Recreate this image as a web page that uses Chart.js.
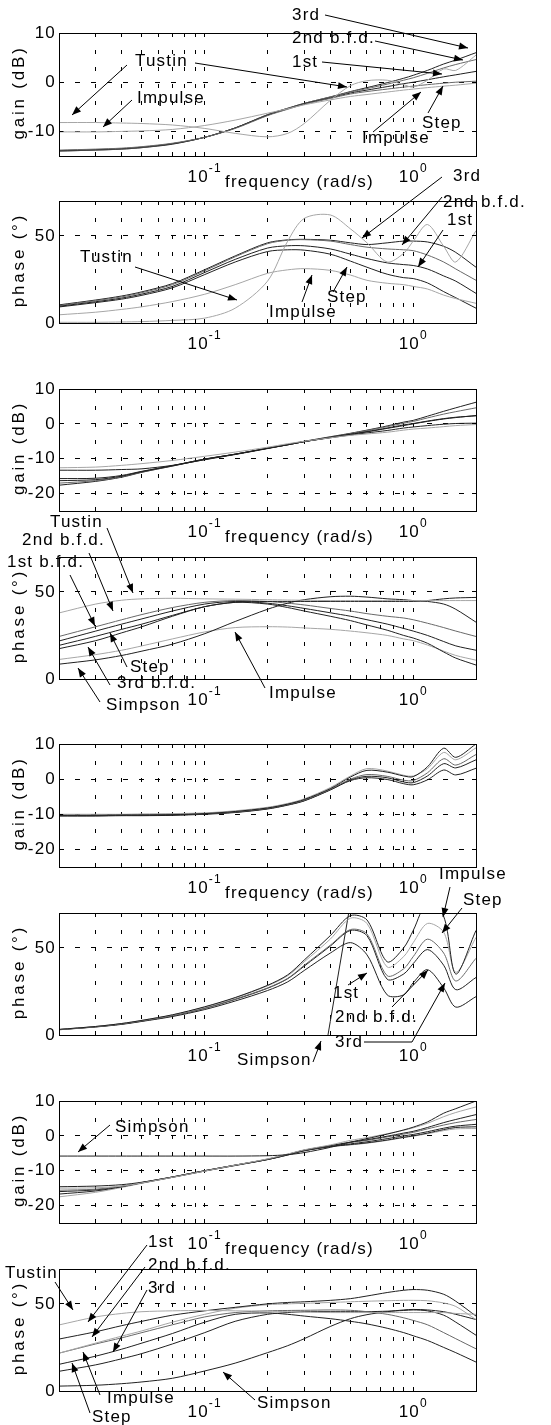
<!DOCTYPE html>
<html lang="en">
<head>
<meta charset="UTF-8">
<title>Gain and phase of the discretisations</title>
<script src="https://cdn.jsdelivr.net/npm/chart.js"></script>
<style>
    body {
        margin: 0;
        background: #fff;
    }
    #page {
        position: relative;
        width: 551px;
        height: 1425px;
        overflow: hidden;
    }
    #page canvas {
        position: absolute;
        left: 0;
    }
    #notes {
        top: 0;
        z-index: 5;
        pointer-events: none;
    }
</style>
</head>
<body>
<div id="page">
    <canvas id="notes" width="551" height="1425"></canvas>
</div>
<script>
// frequencies (rad/s) where the curves are read
const freq = [0.02, 0.03, 0.04, 0.05, 0.07, 0.1, 0.14, 0.2, 0.25, 0.3, 0.4, 0.5, 0.6, 0.75, 0.9, 1.0, 1.17, 1.4, 1.6, 2.0];

// axis ticks
const xGridTicks = [0.03, 0.04, 0.05, 0.06, 0.07, 0.08, 0.09, 0.1, 0.2, 0.3, 0.4, 0.5, 0.6, 0.7, 0.8, 0.9, 1];
const xLabelTicks = [0.1, 1];
const xLabelExps = ['-1', '0'];
const gainTicksTop = [-10, 0, 10];
const gainTicks = [-20, -10, 0, 10];
const phaseTicks = [0, 50];

// panel 1 - gain (dB)
const g1Tustin = [-8.2, -8.2, -8.3, -8.4, -8.7, -9.4, -10.4, -11.1, -10.4, -8.4, -3.7, -0.7, 0.3, 0.4, -0.5, -1.0, 0.4, 2.7, 2.4, 5.5];
const g1Impulse = [-10.1, -10.1, -10.0, -9.9, -9.6, -8.8, -7.7, -6.3, -5.4, -4.6, -3.6, -2.9, -2.5, -2.0, -1.6, -1.4, -1.1, -0.8, -0.6, -0.2];
const g1Step = [-13.8, -13.6, -13.4, -13.1, -12.4, -11.2, -9.4, -6.8, -5.5, -4.5, -3.3, -2.4, -1.9, -1.4, -1.0, -0.8, -0.5, -0.2, 0.0, 0.2];
const g1First = [-13.9, -13.7, -13.5, -13.2, -12.5, -11.2, -9.3, -6.7, -5.4, -4.4, -3.2, -2.2, -1.6, -0.9, -0.3, 0.0, 0.5, 1.1, 1.5, 2.2];
const g1Second = [-14.0, -13.8, -13.6, -13.3, -12.5, -11.2, -9.3, -6.6, -5.3, -4.3, -3.0, -2.0, -1.3, -0.4, 0.4, 0.9, 1.8, 2.9, 3.6, 4.6];
const g1Third = [-14.0, -13.8, -13.6, -13.3, -12.6, -11.2, -9.3, -6.6, -5.3, -4.3, -3.0, -1.9, -1.1, -0.1, 0.8, 1.4, 2.4, 3.7, 4.5, 6.0];

// panel 2 - phase (deg)
const p1Tustin = [0.4, 0.4, 0.6, 0.8, 1.5, 2.8, 8.5, 24, 47, 60, 62, 54, 46, 35, 40, 47, 56.5, 44, 35, 53];
const p1Impulse = [4.7, 6.2, 7.8, 9.3, 12.3, 16.5, 22, 28.5, 30.5, 31.2, 30.2, 27.5, 24.5, 22.8, 22, 21, 19.5, 16, 14, 11.3];
const p1Third = [10.4, 13.2, 15.5, 17.9, 22.6, 30.6, 38.5, 46, 47.7, 48, 47.5, 46, 45, 46, 47, 47, 46.5, 44, 40.5, 32];
const p1Second = [10, 12.8, 15, 17.4, 22, 30, 38, 45.5, 47.5, 47.8, 47, 45, 43.5, 42.5, 42, 41.5, 39, 35, 31, 24.5];
const p1First = [9.6, 12.2, 14.3, 16.6, 21, 29, 36.5, 43, 44.3, 44.3, 42.5, 39.5, 37, 34.5, 33.5, 33, 31, 27, 24, 17];
const p1Step = [9.2, 11.7, 13.7, 15.9, 20.2, 27.8, 35, 41, 42, 41.8, 39.5, 35.5, 32, 28, 26, 25.5, 23, 18, 14.5, 8.5];

// panel 3 - gain (dB)
const g2Tustin = [-12.6, -12.4, -11.9, -11.4, -10.5, -9.3, -8.1, -6.7, -5.7, -5.0, -4.0, -3.3, -2.9, -2.4, -1.8, -1.5, -1.2, -0.8, -0.5, -0.2];
const g2Simpson = [-13.3, -13.3, -13.1, -12.9, -11.9, -10.3, -8.8, -7.1, -6.0, -5.1, -4.0, -3.2, -2.6, -1.9, -1.2, -0.9, -0.5, -0.1, 0.1, 0.2];
const g2Step = [-15.7, -15.6, -14.8, -13.6, -12.0, -10.1, -8.7, -7.0, -6.0, -5.1, -3.9, -3.0, -2.3, -1.3, -0.5, 0.0, 0.7, 1.4, 1.8, 2.4];
const g2First = [-16.3, -16.0, -15.0, -13.7, -12.0, -10.1, -8.7, -7.0, -6.0, -5.1, -3.9, -3.0, -2.2, -1.2, -0.3, 0.1, 0.8, 1.5, 1.9, 2.3];
const g2Second = [-17.0, -16.3, -15.2, -13.8, -12.1, -10.2, -8.7, -7.0, -6.0, -5.1, -3.8, -2.8, -1.9, -0.8, 0.2, 0.7, 1.7, 2.8, 3.5, 4.6];
const g2Third = [-17.6, -16.5, -15.3, -13.9, -12.1, -10.2, -8.7, -7.0, -5.9, -5.0, -3.7, -2.7, -1.8, -0.6, 0.5, 1.0, 2.2, 3.6, 4.6, 6.2];

// panel 4 - phase (deg)
const p2Tustin = [37.9, 43, 45.2, 46, 46.3, 46, 45.8, 45.5, 45.3, 45.2, 45, 45, 45, 45, 45, 45, 45, 45, 45, 45];
const p2Simpson = [8.5, 11, 13.5, 16, 20, 26, 33, 40, 43.5, 45.5, 47.2, 47.5, 47, 46, 45.5, 45, 44.5, 43, 40, 32.6];
const p2Third = [17.4, 22, 26.5, 30, 36, 41.5, 44, 44.5, 44.5, 44.5, 44.5, 44.5, 44.5, 44.5, 44.5, 44.5, 45, 46, 46.5, 46.8];
const p2Second = [24.4, 30, 34, 37, 41, 44, 45, 44.5, 43.5, 42.5, 40.5, 39, 37.5, 36, 35, 34, 32, 29.5, 27.5, 24.4];
const p2First = [21.8, 27.5, 31.5, 34.5, 39, 43, 44.5, 43.5, 42, 40.5, 38, 36, 34, 31.5, 29, 27.5, 25, 21.5, 19, 16.5];
const p2Step = [19.3, 24.5, 28.5, 31.5, 36.5, 41.5, 44, 43, 41, 39, 36, 33.5, 31, 28, 25, 23.5, 20.5, 15.5, 12, 8];
const p2Impulse = [11.2, 14, 16.5, 19, 23, 27, 29.5, 30, 29.8, 29.3, 28.5, 27.5, 26.5, 25, 23, 22, 19.5, 16, 13.5, 10.8];

// panel 5 - gain (dB)
const g3Impulse = [-10.3, -10.3, -10.2, -10.2, -10.1, -9.8, -9.2, -8.2, -7.1, -5.8, -2.7, 0.6, 2.5, 2.0, 0.9, 0.7, 3.5, 8.8, 6.2, 10.0];
const g3Step = [-10.0, -10.0, -10.0, -9.9, -9.8, -9.6, -9.0, -8.0, -6.9, -5.6, -2.4, 0.9, 3.0, 2.3, 1.1, 0.9, 3.0, 7.6, 5.5, 8.9];
const g3Third = [-10.2, -10.2, -10.1, -10.1, -10.0, -9.8, -9.3, -8.3, -7.2, -6.0, -2.9, 0.0, 1.3, 0.8, -0.3, -0.4, 1.8, 5.8, 4.0, 7.0];
const g3Second = [-10.4, -10.4, -10.3, -10.3, -10.2, -9.9, -9.4, -8.4, -7.3, -6.1, -3.0, -0.2, 0.8, 0.4, -0.8, -1.0, 0.9, 4.4, 3.2, 5.5];
const g3First = [-10.5, -10.5, -10.4, -10.4, -10.3, -10.0, -9.5, -8.5, -7.4, -6.2, -3.1, -0.4, 0.4, -0.1, -1.3, -1.6, -0.2, 2.6, 1.2, 3.1];

// panel 6 - phase (deg)
const p3Impulse = [3.2, 4.9, 6.6, 8.4, 11.6, 16.2, 21.5, 28.5, 34.5, 43, 57, 68.5, 66, 42, 50, 60, 76, 68, 35, 60];
const p3Step = [3.2, 4.9, 6.6, 8.4, 11.5, 16, 21.3, 28.2, 34, 42, 55, 67, 64, 39, 45, 53, 64, 59, 36, 56];
const p3Third = [3.1, 4.8, 6.4, 8.1, 11.1, 15.4, 20.6, 27, 32.5, 40, 51.5, 60.5, 58, 34, 38, 45, 55, 47, 31, 44];
const p3Second = [3.1, 4.7, 6.3, 8.0, 11.0, 15.3, 20.4, 26.8, 32.3, 39.5, 51, 60, 57, 32, 35, 41, 49, 40, 26, 33];
const p3First = [3.0, 4.6, 6.1, 7.8, 10.6, 14.6, 19.5, 25.5, 30.5, 37, 47, 53, 46, 23, 23, 30, 37.5, 27, 16, 22];
const p3Simpson = [null, null, null, null, null, null, null, null, null, -80, 7.7, 76, 132, null, null, null, null, null, null, null];

// panel 7 - gain (dB)
const g4Simpson = [-5.8, -5.8, -5.8, -5.8, -5.8, -5.8, -5.8, -5.7, -5.4, -4.8, -3.3, -1.8, -0.8, 0.5, 1.7, 2.5, 4.0, 6.5, 7.8, 10.0];
const g4Impulse = [-15.0, -14.9, -14.4, -13.5, -11.9, -10.1, -8.4, -6.6, -5.2, -4.0, -2.6, -1.3, -0.5, 0.6, 1.6, 2.3, 3.6, 5.5, 6.7, 8.3];
const g4Step = [-14.6, -14.4, -14.0, -13.3, -11.8, -10.0, -8.4, -6.7, -5.3, -4.1, -2.8, -1.8, -1.1, -0.1, 0.8, 1.3, 2.4, 3.8, 4.7, 6.1];
const g4First = [-15.6, -15.3, -14.4, -13.4, -11.8, -10.0, -8.4, -6.7, -5.3, -4.1, -2.8, -1.9, -1.3, -0.3, 0.5, 1.0, 2.0, 3.1, 3.8, 4.7];
const g4Second = [-16.0, -15.5, -14.5, -13.4, -11.8, -10.0, -8.4, -6.8, -5.4, -4.2, -3.0, -2.3, -1.7, -0.8, 0.0, 0.4, 1.2, 2.2, 2.8, 3.3];
const g4Third = [-16.7, -15.8, -14.6, -13.5, -11.9, -10.1, -8.5, -6.8, -5.5, -4.3, -3.1, -2.5, -2.0, -1.2, -0.4, 0.0, 0.8, 1.8, 2.4, 2.6];
const g4Tustin = [-17.5, -16.2, -14.8, -13.6, -11.9, -10.1, -8.5, -6.8, -5.5, -4.3, -3.1, -2.6, -2.1, -1.3, -0.5, -0.1, 0.6, 1.5, 2.0, 2.1];

// panel 8 - phase (deg)
const p4Tustin = [37.9, 42.5, 44.5, 45.5, 46, 46.2, 46, 45.8, 45.5, 45.3, 45, 45, 45, 45, 45, 45, 45, 45, 44.5, 44];
const p4First = [29.8, 34, 37.5, 40, 43.5, 46, 48, 50, 50.8, 51.2, 52, 53, 54.5, 56.5, 57.8, 58.2, 57.8, 55.5, 51.5, 43];
const p4Impulse = [21.7, 27.5, 31.5, 34.5, 39.5, 44, 47.5, 49.5, 50, 50.3, 50.8, 51.2, 51.5, 51.8, 52, 52, 51.8, 50.5, 48.5, 41];
const p4Second = [21.7, 27, 30.5, 33.5, 38, 42.5, 45, 46, 46.2, 46.3, 46.5, 46.3, 45.5, 44, 42, 40.5, 38, 33.5, 30, 24.2];
const p4Step = [15.3, 20, 24, 27.5, 33, 39.5, 44, 44.8, 44, 43, 41.5, 40, 38.5, 36, 33.5, 31.7, 29, 25, 22, 16.6];
const p4Third = [11.3, 15, 18.5, 21.5, 27, 33.5, 40, 44, 45, 45.5, 45.5, 45.5, 45.5, 45.8, 46.2, 46.5, 46, 43.5, 39.5, 32];
const p4Simpson = [2.8, 3.3, 4.2, 5.2, 7.3, 11.5, 16, 22, 26, 30, 37, 41.5, 43.8, 45.5, 46.5, 46.8, 46.5, 45.5, 44, 41];

const DARK = '#202020', MID = '#686868', LIGHT = '#a6a6a6';
const FAMILY = "Arial, 'Liberation Sans', Helvetica, sans-serif";
const FONT = '17px ' + FAMILY;
const SUP = '12px ' + FAMILY;
const GAIN = 'gain (dB)', PHASE = 'phase (°)', FREQ = 'frequency (rad/s)';

const panels = [
    { top: 33, bottom: 156, min: -15, max: 10, yTicks: gainTicksTop, yTitle: GAIN, xTitle: FREQ,
      series: [[g1Tustin, LIGHT], [g1Impulse, LIGHT], [g1Step, MID], [g1First, DARK], [g1Second, MID], [g1Third, DARK]] },
    { top: 201, bottom: 323, min: 0, max: 70, yTicks: phaseTicks, yTitle: PHASE,
      series: [[p1Tustin, LIGHT], [p1Impulse, LIGHT], [p1Step, DARK], [p1First, DARK], [p1Second, MID], [p1Third, DARK]] },
    { top: 389, bottom: 511, min: -25, max: 10, yTicks: gainTicks, yTitle: GAIN, xTitle: FREQ,
      series: [[g2Tustin, LIGHT], [g2Simpson, DARK], [g2Step, DARK], [g2First, DARK], [g2Second, MID], [g2Third, DARK]] },
    { top: 557, bottom: 679, min: 0, max: 70, yTicks: phaseTicks, yTitle: PHASE,
      series: [[p2Tustin, LIGHT], [p2Simpson, DARK], [p2Third, DARK], [p2Second, MID], [p2First, DARK], [p2Step, DARK], [p2Impulse, LIGHT]] },
    { top: 744, bottom: 867, min: -25, max: 10, yTicks: gainTicks, yTitle: GAIN, xTitle: FREQ,
      series: [[g3Impulse, DARK], [g3Step, LIGHT], [g3Third, MID], [g3Second, DARK], [g3First, DARK]] },
    { top: 913, bottom: 1035, min: 0, max: 70, yTicks: phaseTicks, yTitle: PHASE,
      series: [[p3Impulse, DARK], [p3Step, LIGHT], [p3Third, MID], [p3Second, DARK], [p3First, DARK], [p3Simpson, DARK, 0]] },
    { top: 1101, bottom: 1223, min: -25, max: 10, yTicks: gainTicks, yTitle: GAIN, xTitle: FREQ,
      series: [[g4Simpson, DARK], [g4Impulse, LIGHT], [g4Step, DARK], [g4First, MID], [g4Second, DARK], [g4Third, DARK], [g4Tustin, LIGHT]] },
    { top: 1269, bottom: 1391, min: 0, max: 70, yTicks: phaseTicks, yTitle: PHASE,
      series: [[p4Tustin, LIGHT], [p4First, DARK], [p4Impulse, LIGHT], [p4Second, MID], [p4Step, DARK], [p4Third, DARK], [p4Simpson, DARK]] }
];

// labels and arrows drawn over the figure (page pixels)
const notes = [
    { t: '3rd', x: 292, y: 20, a: [[[325, 15], [468, 48]]] },
    { t: '2nd b.f.d.', x: 292, y: 43, a: [[[375, 41], [463, 60]]] },
    { t: '1st', x: 292, y: 67, a: [[[322, 62], [442, 74]]] },
    { t: 'Tustin', x: 135, y: 66, a: [[[127, 65], [72, 115]], [[195, 63], [347, 87]]] },
    { t: 'Impulse', x: 137, y: 103, a: [[[132, 100], [103, 127]]] },
    { t: 'Impulse', x: 362, y: 143, a: [[[373, 132], [421, 92]]] },
    { t: 'Step', x: 422, y: 128, a: [[[428, 113], [443, 86]]] },

    { t: '3rd', x: 453, y: 181, a: [[[442, 177], [362, 238]]] },
    { t: '2nd b.f.d.', x: 443, y: 207, a: [[[442, 197], [402, 245]]] },
    { t: '1st', x: 447, y: 225, a: [[[443, 230], [418, 267]]] },
    { t: 'Tustin', x: 80, y: 262, a: [[[135, 267], [237, 300]]] },
    { t: 'Step', x: 327, y: 302, a: [[[333, 292], [347, 267]]] },
    { t: 'Impulse', x: 269, y: 317, a: [[[302, 302], [312, 275]]] },

    { t: 'Tustin', x: 50, y: 527, a: [[[107, 528], [133, 593]]] },
    { t: '2nd b.f.d.', x: 22, y: 545, a: [[[89, 553], [113, 611]]] },
    { t: '1st b.f.d.', x: 7, y: 567, a: [[[70, 575], [95, 626]]] },
    { t: 'Step', x: 130, y: 672, a: [[[127, 667], [110, 633]]] },
    { t: '3rd b.f.d.', x: 117, y: 688, a: [[[110, 685], [88, 647]]] },
    { t: 'Simpson', x: 106, y: 710, a: [[[100, 702], [78, 668]]] },
    { t: 'Impulse', x: 269, y: 698, a: [[[265, 688], [235, 632]]] },

    { t: 'Impulse', x: 439, y: 879, a: [[[450, 887], [443, 917]]] },
    { t: 'Step', x: 463, y: 905, a: [[[462, 908], [442, 933]]] },
    { t: '1st', x: 333, y: 998, a: [[[348, 985], [367, 973]]] },
    { t: '2nd b.f.d.', x: 335, y: 1022, a: [[[392, 1007], [428, 970]]] },
    { t: '3rd', x: 335, y: 1047, a: [[[364, 1042], [412, 1042], [445, 983]]] },
    { t: 'Simpson', x: 237, y: 1065, a: [[[313, 1062], [321, 1041]]] },

    { t: 'Simpson', x: 115, y: 1132, a: [[[110, 1125], [78, 1152]]] },

    { t: '1st', x: 148, y: 1247, a: [[[147, 1245], [88, 1322]]] },
    { t: '2nd b.f.d.', x: 148, y: 1270, a: [[[145, 1267], [92, 1337]]] },
    { t: '3rd', x: 148, y: 1293, a: [[[147, 1290], [113, 1352]]] },
    { t: 'Tustin', x: 5, y: 1278, a: [[[55, 1282], [73, 1310]]] },
    { t: 'Impulse', x: 107, y: 1403, a: [[[100, 1395], [83, 1352]]] },
    { t: 'Step', x: 92, y: 1422, a: [[[90, 1413], [72, 1363]]] },
    { t: 'Simpson', x: 257, y: 1408, a: [[[255, 1400], [223, 1372]]] }
];

Chart.defaults.font.family = FAMILY;
Chart.defaults.font.size = 17;
Chart.defaults.color = '#000';

const PAD_TOP = 30, X_BOX = 40, LEFT = 59, RIGHT = 476, W = 551;
const crisp = p => Math.round(p - 0.5) + 0.5;

// frame, inner ticks, x labels with exponents and axis titles
function axisText(panel) {
    return {
        id: 'axisText',
        beforeDraw(chart) {
            chart.ctx.letterSpacing = '1.2px';
        },
        afterDraw(chart) {
            const { ctx, chartArea: a, scales: { x, y } } = chart;
            ctx.save();
            ctx.setLineDash([]);
            ctx.strokeStyle = '#000';
            ctx.lineWidth = 1;
            ctx.beginPath();
            xGridTicks.forEach(v => {
                const px = crisp(x.getPixelForValue(v));
                ctx.moveTo(px, a.top); ctx.lineTo(px, a.top + 4);
                ctx.moveTo(px, a.bottom); ctx.lineTo(px, a.bottom - 4);
            });
            panel.yTicks.forEach(v => {
                const py = crisp(y.getPixelForValue(v));
                ctx.moveTo(a.left, py); ctx.lineTo(a.left + 4, py);
                ctx.moveTo(a.right, py); ctx.lineTo(a.right - 4, py);
            });
            ctx.stroke();
            ctx.strokeRect(crisp(a.left), crisp(a.top), Math.round(a.right - a.left), Math.round(a.bottom - a.top));

            ctx.fillStyle = '#000';
            ctx.textAlign = 'left';
            ctx.textBaseline = 'alphabetic';
            xLabelTicks.forEach((v, i) => {
                const px = x.getPixelForValue(v);
                ctx.font = FONT;
                const w1 = ctx.measureText('10').width;
                ctx.font = SUP;
                const w2 = ctx.measureText(xLabelExps[i]).width;
                const s = px - (w1 + w2) / 2;
                ctx.font = FONT;
                ctx.fillText('10', s, a.bottom + 26);
                ctx.font = SUP;
                ctx.fillText(xLabelExps[i], s + w1, a.bottom + 16);
            });
            if (panel.xTitle) {
                ctx.font = FONT;
                ctx.fillText(panel.xTitle, a.left + 166, a.bottom + 31);
            }
            ctx.font = FONT;
            ctx.letterSpacing = '2.8px';
            ctx.translate(19, (a.top + a.bottom) / 2 - 2);
            ctx.rotate(-Math.PI / 2);
            ctx.textAlign = 'center';
            ctx.textBaseline = 'middle';
            ctx.fillText(panel.yTitle, 0, 0);
            ctx.restore();
        }
    };
}

const page = document.getElementById('page');
const notesCanvas = document.getElementById('notes');

panels.forEach(panel => {
    const canvas = document.createElement('canvas');
    const h = panel.bottom - panel.top + PAD_TOP + X_BOX;
    canvas.width = W;
    canvas.height = h;
    canvas.style.top = (panel.top - PAD_TOP) + 'px';
    page.insertBefore(canvas, notesCanvas);

    new Chart(canvas.getContext('2d'), {
        type: 'line',
        data: {
            datasets: panel.series.map(([vals, color, tension]) => ({
                data: freq.map((f, i) => ({ x: f, y: vals[i] })),
                borderColor: color,
                borderWidth: 1,
                pointRadius: 0,
                fill: false,
                spanGaps: false,
                tension: tension === undefined ? 0.3 : tension
            }))
        },
        options: {
            responsive: false,
            animation: false,
            events: [],
            layout: { autoPadding: false, padding: { top: PAD_TOP, right: W - RIGHT, bottom: 0, left: 0 } },
            plugins: { legend: { display: false }, tooltip: { enabled: false } },
            scales: {
                x: {
                    type: 'logarithmic',
                    min: 0.02,
                    max: 2,
                    afterBuildTicks: s => { s.ticks = xGridTicks.map(v => ({ value: v })); },
                    afterFit: s => { s.height = X_BOX; },
                    ticks: { display: false },
                    grid: { color: '#000', lineWidth: 1, drawTicks: false },
                    border: { display: false, dash: [4, 13] }
                },
                y: {
                    type: 'linear',
                    min: panel.min,
                    max: panel.max,
                    afterBuildTicks: s => { s.ticks = panel.yTicks.map(v => ({ value: v })); },
                    afterFit: s => { s.width = LEFT; },
                    ticks: { padding: 3, color: '#000', font: { size: 17 }, callback: v => String(v) },
                    grid: { color: '#000', lineWidth: 1, drawTicks: false },
                    border: { display: false, dash: [5, 11] }
                }
            }
        },
        plugins: [axisText(panel)]
    });
});

// annotations
const nctx = notesCanvas.getContext('2d');
nctx.font = FONT;
nctx.letterSpacing = '1.2px';
nctx.fillStyle = '#000';
nctx.strokeStyle = '#000';
nctx.lineWidth = 1;

function arrow(pts) {
    nctx.beginPath();
    nctx.moveTo(pts[0][0], pts[0][1]);
    pts.slice(1).forEach(p => nctx.lineTo(p[0], p[1]));
    nctx.stroke();
    const [x1, y1] = pts[pts.length - 2];
    const [x2, y2] = pts[pts.length - 1];
    const ang = Math.atan2(y2 - y1, x2 - x1);
    const L = 9, H = 3.5;
    const bx = x2 - L * Math.cos(ang), by = y2 - L * Math.sin(ang);
    nctx.beginPath();
    nctx.moveTo(x2, y2);
    nctx.lineTo(bx + H * Math.sin(ang), by - H * Math.cos(ang));
    nctx.lineTo(bx - H * Math.sin(ang), by + H * Math.cos(ang));
    nctx.closePath();
    nctx.fill();
}

notes.forEach(n => {
    nctx.fillText(n.t, n.x, n.y);
    n.a.forEach(arrow);
});
</script>
</body>
</html>
